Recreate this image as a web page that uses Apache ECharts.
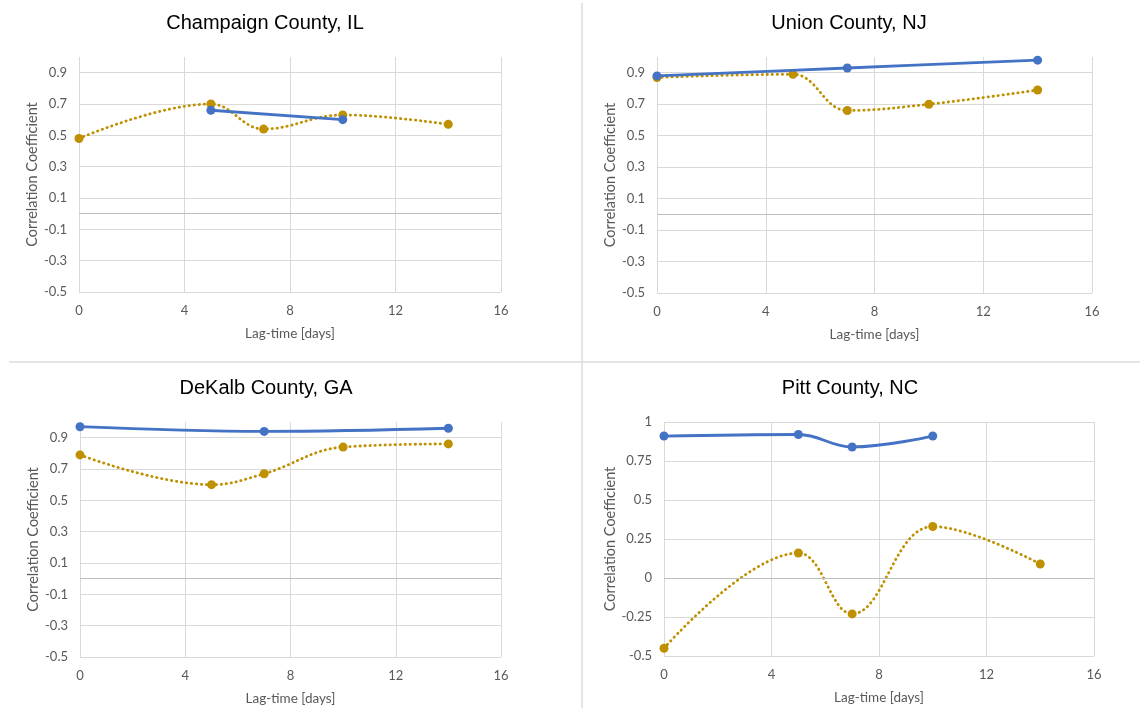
<!DOCTYPE html>
<html>
<head>
<meta charset="utf-8">
<script src="https://cdn.jsdelivr.net/npm/echarts@6/dist/echarts.min.js"></script>
<style>
  html, body { margin: 0; padding: 0; background: #fff; }
  #main { width: 1140px; height: 708px; }
</style>
</head>
<body>
<div id="main"></div>
<script>
// lag times shared by every county (days)
var lags = [0, 5, 7, 10, 14];
var xTicks = [0, 4, 8, 12, 16];

// correlation values, null where no point was plotted
var champaignBlue = [null, 0.66, null, 0.60, null];
var champaignGold = [0.48, 0.70, 0.54, 0.63, 0.57];
var unionBlue = [0.88, null, 0.93, null, 0.98];
var unionGold = [0.87, 0.89, 0.66, 0.70, 0.79];
var dekalbBlue = [0.97, null, 0.94, null, 0.96];
var dekalbGold = [0.79, 0.60, 0.67, 0.84, 0.86];
var pittBlue = [0.91, 0.92, 0.84, 0.91, null];
var pittGold = [-0.45, 0.16, -0.23, 0.33, 0.09];

var titles = ['Champaign County, IL', 'Union County, NJ', 'DeKalb County, GA', 'Pitt County, NC'];

var panels = [
  { title: titles[0], blue: champaignBlue, gold: champaignGold, grid: { left: 79, top: 57, width: 422, height: 235 }, tx: 265, ty: 23, pitt: false },
  { title: titles[1], blue: unionBlue, gold: unionGold, grid: { left: 657, top: 57, width: 435, height: 236 }, tx: 849, ty: 23, pitt: false },
  { title: titles[2], blue: dekalbBlue, gold: dekalbGold, grid: { left: 80, top: 422, width: 421, height: 235 }, tx: 266, ty: 388, pitt: false },
  { title: titles[3], blue: pittBlue, gold: pittGold, grid: { left: 664, top: 422, width: 430, height: 234 }, tx: 850, ty: 388, pitt: true }
];

var BLUE = '#4472c4';
var GOLD = '#bf9000';
var GRID_LINE = '#d9d9d9';
var LABEL = '#595959';
var FONT = 'Lato';

function pairs(vals) {
  var out = [];
  for (var i = 0; i < lags.length; i++) {
    if (vals[i] != null) out.push([lags[i], vals[i]]);
  }
  return out;
}

var grids = [], xAxes = [], yAxes = [], series = [], graphics = [];

panels.forEach(function (p, i) {
  grids.push(Object.assign({ outerBoundsMode: 'none' }, p.grid));

  xAxes.push({
    type: 'value',
    gridIndex: i,
    min: xTicks[0],
    max: xTicks[xTicks.length - 1],
    interval: xTicks[1] - xTicks[0],
    name: 'Lag-time [days]',
    nameLocation: 'middle',
    nameGap: 35,
    nameTextStyle: { color: LABEL, fontSize: 13.5, fontFamily: FONT },
    axisLine: { show: false },
    axisTick: { show: false },
    axisLabel: { color: LABEL, fontSize: 13, fontFamily: FONT, margin: 12 },
    splitLine: { show: true, lineStyle: { color: GRID_LINE, width: 1 } }
  });

  var yAxis = {
    type: 'value',
    gridIndex: i,
    min: -0.5,
    max: 1,
    name: 'Correlation Coefficient',
    nameLocation: 'middle',
    nameGap: 37,
    nameTextStyle: { color: LABEL, fontSize: 14.5, fontFamily: FONT },
    axisLine: { show: false },
    axisTick: { show: false },
    axisLabel: { color: LABEL, fontSize: 13, fontFamily: FONT, margin: 12 },
    splitLine: { show: true, lineStyle: { color: GRID_LINE, width: 1 } }
  };
  if (p.pitt) {
    yAxis.interval = 0.25;
  } else {
    // ticks every 0.1, only every other one labelled and gridded
    yAxis.interval = 0.1;
    yAxis.axisLabel.showMaxLabel = false;
    yAxis.axisLabel.formatter = function (v) {
      var k = Math.round((v + 0.5) * 10);
      return (k % 2 === 0 && v < 0.95) ? v.toFixed(1) : '';
    };
    yAxis.splitLine.lineStyle.color = [GRID_LINE, 'rgba(0,0,0,0)'];
  }
  yAxes.push(yAxis);

  series.push({
    type: 'line',
    xAxisIndex: i,
    yAxisIndex: i,
    data: pairs(p.gold),
    smooth: 0.4,
    symbol: 'circle',
    symbolSize: 9,
    itemStyle: { color: GOLD },
    lineStyle: { color: GOLD, width: 2.8, type: [0.4, 4.6], cap: 'round' },
    markLine: {
      silent: true,
      symbol: 'none',
      label: { show: false },
      lineStyle: { color: '#bfbfbf', width: 1.2, type: 'solid' },
      data: [{ yAxis: 0 }]
    },
    z: 2
  });
  series.push({
    type: 'line',
    xAxisIndex: i,
    yAxisIndex: i,
    data: pairs(p.blue),
    smooth: 0.4,
    symbol: 'circle',
    symbolSize: 9,
    itemStyle: { color: BLUE },
    lineStyle: { color: BLUE, width: 2.8 },
    z: 3
  });

  graphics.push({
    type: 'text',
    x: p.tx,
    y: p.ty,
    style: {
      text: p.title,
      fill: '#000',
      font: '20px "Liberation Sans", Arial, sans-serif',
      textAlign: 'center',
      textVerticalAlign: 'middle'
    }
  });
});

// panel separators
graphics.push({ type: 'line', shape: { x1: 582, y1: 3, x2: 582, y2: 708 }, style: { stroke: '#dcdcdc', lineWidth: 1.5 } });
graphics.push({ type: 'line', shape: { x1: 9, y1: 362, x2: 1140, y2: 362 }, style: { stroke: '#dcdcdc', lineWidth: 1.5 } });

var myChart = echarts.init(document.getElementById('main'));
myChart.setOption({
  animation: false,
  backgroundColor: '#fff',
  grid: grids,
  xAxis: xAxes,
  yAxis: yAxes,
  series: series,
  graphic: graphics
});
</script>
</body>
</html>
